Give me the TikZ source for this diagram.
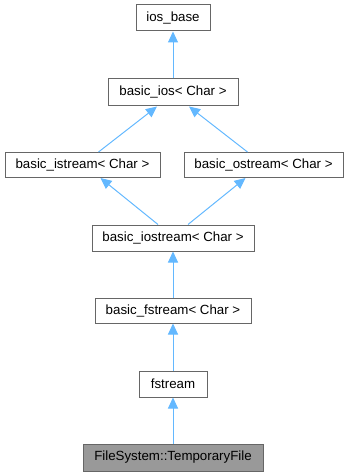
\documentclass[tikz,border=0pt]{standalone}
\usepackage{fontspec}
\setmainfont{Liberation Sans}
\usetikzlibrary{arrows.meta,calc}
\definecolor{edgeblue}{HTML}{63B8FF}
\definecolor{boxgray}{HTML}{666666}
\definecolor{fillgray}{HTML}{999999}
\begin{document}
\begin{tikzpicture}[x=1pt,y=-1pt,
  cls/.style={draw=boxgray,line width=1pt,fill=white,inner sep=0pt,minimum height=25pt,
    font=\fontsize{13.3}{15}\selectfont},
  inh/.style={draw=edgeblue,line width=1pt,-{Triangle[length=11pt,width=10pt,fill=edgeblue]}}]
\useasboundingbox (0,0) rectangle (349,476);
\node[cls,minimum width=74pt,minimum height=26pt] (iosbase) at (173,18) {ios\_base};
\node[cls,minimum width=130pt,minimum height=27pt] (basicios) at (173,92.5) {basic\_ios< Char >};
\node[cls,minimum width=155pt] (istream) at (82.5,165) {basic\_istream< Char >};
\node[cls,minimum width=159pt] (ostream) at (263.5,165) {basic\_ostream< Char >};
\node[cls,minimum width=162pt,minimum height=26pt] (iostream) at (173,238) {basic\_iostream< Char >};
\node[cls,minimum width=156pt] (bfstream) at (173,310.5) {basic\_fstream< Char >};
\node[cls,minimum width=68pt,minimum height=26pt] (fstream) at (173,384) {fstream};
\node[cls,fill=fillgray,minimum width=180pt,minimum height=27pt] (tmpfile) at (173,457.5) {FileSystem::TemporaryFile};
\draw[inh] (basicios.north) -- (iosbase.south);
\draw[inh] ([xshift=16pt]istream.north) -- ([xshift=-16pt]basicios.south);
\draw[inh] ([xshift=-16pt]ostream.north) -- ([xshift=16pt]basicios.south);
\draw[inh] ([xshift=-15pt]iostream.north) -- ([xshift=18pt]istream.south);
\draw[inh] ([xshift=15pt]iostream.north) -- ([xshift=-18pt]ostream.south);
\draw[inh] (bfstream.north) -- (iostream.south);
\draw[inh] (fstream.north) -- (bfstream.south);
\draw[inh] (tmpfile.north) -- (fstream.south);
\end{tikzpicture}
\end{document}
